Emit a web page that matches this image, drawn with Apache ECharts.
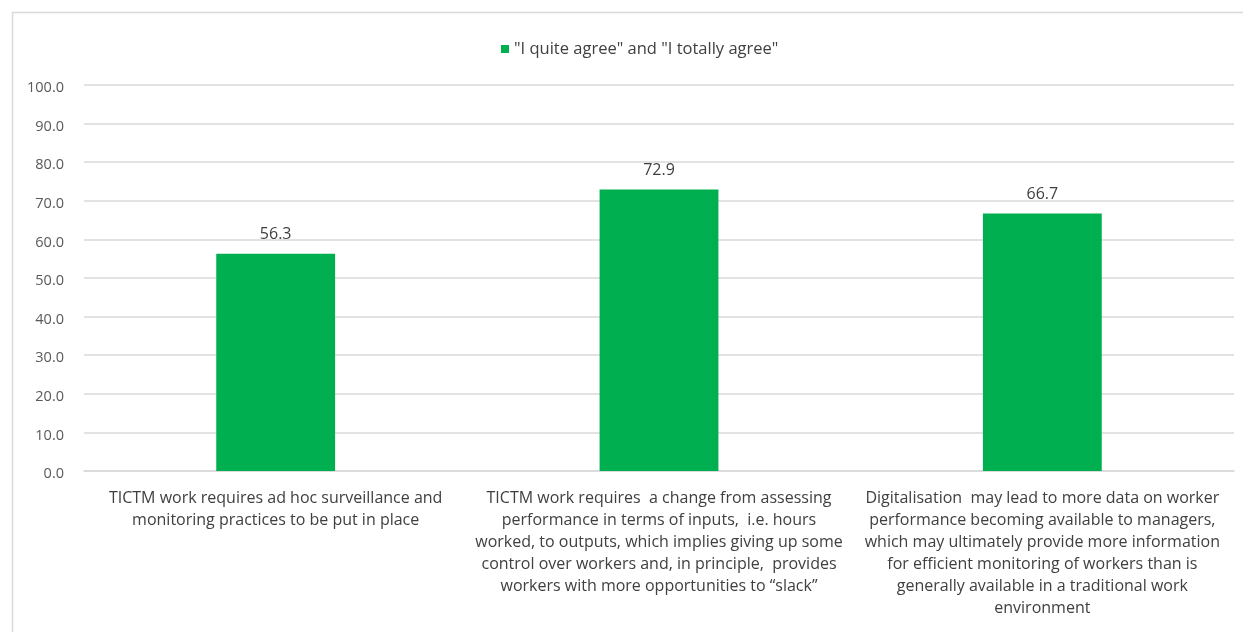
<!DOCTYPE html>
<html>
<head>
<meta charset="utf-8">
<script src="https://cdn.jsdelivr.net/npm/echarts@6/dist/echarts.min.js"></script>
<style>
html,body{margin:0;padding:0;background:#fff;}
#chart{width:1243px;height:632px;}
</style>
</head>
<body>
<div id="chart"></div>
<script>
const categories = [
  "TICTM work requires ad hoc surveillance and\nmonitoring practices to be put in place",
  "TICTM work requires  a change from assessing\nperformance in terms of inputs,  i.e. hours\nworked, to outputs, which implies giving up some\ncontrol over workers and, in principle,  provides\nworkers with more opportunities to \u201cslack\u201d",
  "Digitalisation  may lead to more data on worker\nperformance becoming available to managers,\nwhich may ultimately provide more information\nfor efficient monitoring of workers than is\ngenerally available in a traditional work\nenvironment"
];
const seriesName = '"I quite agree" and "I totally agree"';
const values = [56.3, 72.9, 66.7];
const yMin = 0, yMax = 100, yInterval = 10;

const FONT = '"Open Sans", "Liberation Sans", Arial, sans-serif';
const chart = echarts.init(document.getElementById('chart'), null, {renderer: 'canvas'});
chart.setOption({
  animation: false,
  backgroundColor: '#ffffff',
  textStyle: {fontFamily: FONT},
  graphic: [{
    type: 'rect', silent: true,
    shape: {x: 12.5, y: 12.5, width: 1300, height: 700},
    style: {fill: 'none', stroke: '#d9d9d9', lineWidth: 1.5}
  }],
  legend: {
    top: 34, left: 496,
    icon: 'rect', itemWidth: 8, itemHeight: 8, itemGap: 10,
    textStyle: {fontFamily: FONT, fontSize: 16.5, lineHeight: 20, color: '#404040'},
    data: [seriesName]
  },
  grid: {left: 84, right: 9, top: 85, bottom: 161, containLabel: false},
  xAxis: {
    type: 'category',
    data: categories,
    axisLine: {lineStyle: {color: '#d9d9d9', width: 1.5}},
    axisTick: {show: false},
    axisLabel: {interval: 0, margin: 16, lineHeight: 22, fontFamily: FONT, fontSize: 16, color: '#404040'}
  },
  yAxis: {
    type: 'value', min: yMin, max: yMax, interval: yInterval,
    axisLine: {show: false}, axisTick: {show: false},
    splitLine: {lineStyle: {color: '#d9d9d9', width: 1.5}},
    axisLabel: {margin: 20, fontFamily: FONT, fontSize: 14.5, color: '#595959',
      formatter: v => '{a|' + v.toFixed(1) + '}',
      rich: {a: {fontFamily: FONT, fontSize: 14.5, color: '#595959', padding: [6, 0, 0, 0]}}}
  },
  series: [{
    name: seriesName,
    type: 'bar',
    data: values,
    barWidth: '31%',
    itemStyle: {color: '#00B050'},
    label: {show: true, position: 'top', distance: 11, fontFamily: FONT, fontSize: 16, color: '#404040',
      formatter: p => p.value.toFixed(1)}
  }]
});
</script>
</body>
</html>
